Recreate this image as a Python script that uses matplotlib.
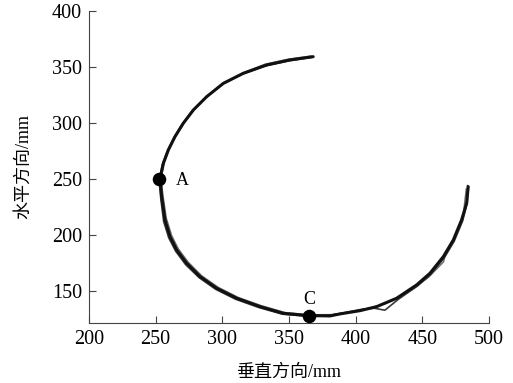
import matplotlib
matplotlib.use("Agg")
import matplotlib.pyplot as plt

# Traced trajectory (main pass)
x_main = [368.2, 350.8, 333.3, 315.8, 300.8, 288.3, 278.3, 270.7, 264.5, 259.5, 255.8, 253.3,
          254.5, 257.0, 260.8, 265.8, 273.3, 283.3, 295.8, 310.8, 328.3, 345.8, 364.5,
          380.8, 388.3, 403.3, 415.8, 430.8, 445.8, 455.8, 465.8, 473.3, 479.5, 483.3, 484.5]
y_main = [359.2, 356.3, 351.8, 344.4, 335.4, 323.5, 311.6, 299.7, 287.8, 275.9, 264.0, 250.0,
          234.2, 213.4, 198.5, 186.6, 174.7, 162.8, 152.4, 143.5, 136.0, 130.0, 128.0,
          127.7, 129.5, 132.4, 136.0, 143.5, 155.4, 165.8, 180.6, 195.5, 213.4, 228.3, 243.1]

# Second pass (slightly offset)
x_b = [367.0, 350.0, 332.5, 315.0, 300.0, 287.5, 277.5, 270.0, 263.8, 258.8, 255.0, 252.6,
       253.8, 256.0, 259.8, 265.0, 272.5, 282.5, 295.0, 310.0, 327.5, 345.0, 364.0,
       381.0, 390.0, 404.0, 414.0, 422.0, 432.0, 446.5, 456.5, 466.5, 474.0, 480.3, 483.8, 484.0]
y_b = [358.6, 355.5, 351.0, 343.6, 334.6, 322.8, 311.0, 299.0, 287.0, 275.0, 263.0, 249.0,
       233.0, 212.0, 197.5, 185.5, 173.5, 162.0, 151.5, 142.6, 135.2, 129.3, 127.4,
       128.3, 130.2, 133.5, 134.6, 132.8, 142.5, 154.5, 165.0, 179.5, 194.5, 212.5, 229.0, 244.0]

# Third pass (with deviations)
x_c = [366.5, 349.5, 332.0, 316.5, 301.5, 289.0, 279.0, 271.5, 265.3, 260.3, 256.5, 254.0,
       255.5, 258.0, 262.0, 267.0, 274.5, 284.5, 297.0, 312.0, 329.5, 347.0, 365.0,
       382.0, 398.0, 413.0, 422.0, 433.0, 445.0, 455.0, 466.0, 467.5, 474.5, 480.5, 483.0]
y_c = [359.8, 357.0, 352.5, 345.2, 336.2, 324.2, 312.2, 300.4, 288.6, 276.8, 265.0, 251.0,
       235.5, 215.0, 199.5, 187.6, 175.6, 163.6, 153.2, 144.2, 136.8, 130.8, 128.8,
       128.9, 131.4, 135.5, 138.5, 144.5, 153.5, 162.5, 176.0, 184.0, 197.0, 215.0, 241.0]

pts_x = [252.8, 365.0]
pts_y = [250.0, 127.7]
pts_lab = ["A", "C"]
lab_x = [270.0, 365.0]
lab_y = [249.0, 142.0]

plt.rcParams['font.family'] = ['Liberation Serif', 'Noto Sans CJK SC']

fig = plt.figure(figsize=(5.13, 3.83), dpi=100)
ax = fig.add_axes([0.1735, 0.1567, 0.7795, 0.8146])

ax.plot(x_c, y_c, color='#666666', lw=1.0, zorder=2, solid_joinstyle='round')
ax.plot(x_b, y_b, color='#3a3a3a', lw=1.2, zorder=2, solid_joinstyle='round')
ax.plot(x_main, y_main, color='#111111', lw=2.2, zorder=3, solid_joinstyle='round',
        solid_capstyle='round')

ax.scatter(pts_x, pts_y, s=95, color='black', zorder=5, linewidths=0)
for lx, ly, t in zip(lab_x, lab_y, pts_lab):
    ax.text(lx, ly, t, fontsize=13, ha='center', va='center')

ax.set_xlim(200, 500)
ax.set_ylim(121.4, 400)
ax.set_xticks([200, 250, 300, 350, 400, 450, 500])
ax.set_yticks([150, 200, 250, 300, 350, 400])
for s in ['top', 'right']:
    ax.spines[s].set_visible(False)
for s in ['left', 'bottom']:
    ax.spines[s].set_color('#444444')
ax.tick_params(direction='in', length=5, labelsize=14.5, colors='#444444', labelcolor='black',
               pad=5)
ax.set_xlabel('垂直方向/mm', fontsize=13, labelpad=11)
ax.set_ylabel('水平方向/mm', fontsize=13, labelpad=14)

fig.savefig('out.png', dpi=100)
